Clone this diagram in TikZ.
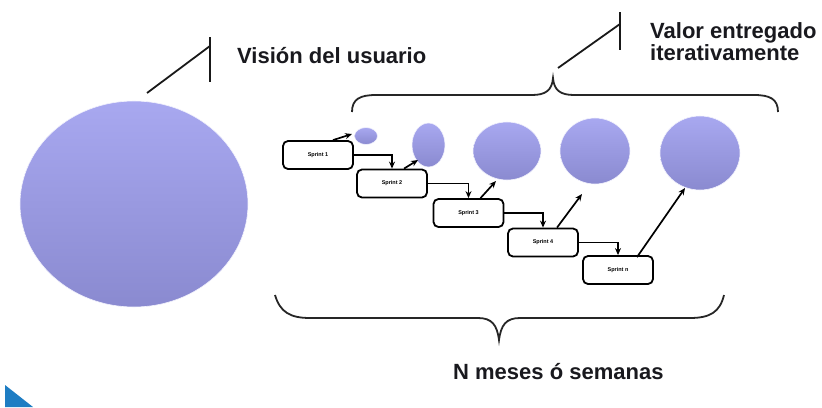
\documentclass[tikz,border=0pt]{standalone}
\usepackage{fontspec}
\setmainfont{Liberation Sans}
\usetikzlibrary{arrows.meta}
\definecolor{bubtop}{RGB}{168,168,240}
\definecolor{bubbot}{RGB}{138,138,208}
\definecolor{txt}{RGB}{25,25,30}
\definecolor{tri}{RGB}{30,125,195}
\tikzset{
  bubble/.style={top color=bubtop, bottom color=bubbot, draw=white!85!bubtop, line width=0.6pt},
  sprintbox/.style={draw=black, line width=1.8pt, rounded corners=5pt, fill=white, minimum width=70pt, minimum height=28pt, inner sep=0pt, font=\bfseries\fontsize{5.5}{6}\selectfont},
  link/.style={line width=1.7pt, -{Stealth[length=7pt,width=6pt]}},
  brace/.style={line width=1.8pt, black!85},
  tick/.style={line width=1.8pt, black!90},
  label/.style={text=txt, font=\bfseries\fontsize{22}{22}\selectfont, inner sep=0pt}
}
\begin{document}
\begin{tikzpicture}[x=1pt,y=-1pt]
\useasboundingbox (0,0) rectangle (822,407);
% big vision circle
\path[bubble] (134,204) ellipse [x radius=114, y radius=103];
\node[label, anchor=base west] (vision) at (237,63) {Visión del usuario};
\coordinate (v1) at (147,93);
\coordinate (v2) at (210,46);
\coordinate (v3) at (210,37);
\coordinate (v4) at (210,82);
\draw[tick] (v1) -- (v2);
\draw[tick] (v3) -- (v4);
% value label
\node[label, anchor=base west, align=left] (valor) at (650,60) {Valor entregado\\[-0.5pt]iterativamente};
\coordinate (w1) at (558,68);
\coordinate (w2) at (620,24);
\coordinate (w3) at (620,12);
\coordinate (w4) at (620,50);
\draw[tick] (w1) -- (w2);
\draw[tick] (w3) -- (w4);
% top brace
\draw[brace] (352,112) .. controls (352,99) and (360,95) .. (376,95) -- (532,95)
  .. controls (546,95) and (552,90) .. (553,78) .. controls (554,90) and (560,95) .. (574,95)
  -- (754,95) .. controls (770,95) and (778,99) .. (778,112);
% bottom brace
\draw[brace] (275,295) .. controls (280,312) and (290,318) .. (310,318) -- (478,318)
  .. controls (492,318) and (497,325) .. (499,340) .. controls (501,325) and (506,318) .. (520,318)
  -- (690,318) .. controls (710,318) and (720,312) .. (724,295);
\node[label, anchor=base west] (meses) at (453,379) {N meses ó semanas};
% bubbles
\path[bubble] (366,136) ellipse [x radius=11.5, y radius=8.5];
\path[bubble] (428.5,145) ellipse [x radius=16.5, y radius=22];
\path[bubble] (507,151) ellipse [x radius=34, y radius=29];
\path[bubble] (595,151) ellipse [x radius=35, y radius=33];
\path[bubble] (700,153) ellipse [x radius=40, y radius=37];
% sprint boxes
\node[sprintbox] (s1) at (318,155) {Sprint 1};
\node[sprintbox] (s2) at (392,183.5) {Sprint 2};
\node[sprintbox] (s3) at (468.5,213) {Sprint 3};
\node[sprintbox] (s4) at (543,242.5) {Sprint 4};
\node[sprintbox] (s5) at (618,270) {Sprint n};
% connectors between boxes
\draw[link] (s1.east) -| (s2.north);
\draw[link] (s2.east) -| (s3.north);
\draw[link] (s3.east) -| (s4.north);
\draw[link] (s4.east) -| (s5.north);
% arrows towards bubbles
\coordinate (a1) at (352,134);
\coordinate (a2) at (418,160);
\coordinate (a3) at (496,181);
\coordinate (a4) at (582,194);
\coordinate (a5) at (685,188);
\draw[link] ([xshift=15pt]s1.north) -- (a1);
\draw[link] ([xshift=12pt]s2.north) -- (a2);
\draw[link] ([xshift=12pt]s3.north) -- (a3);
\draw[link] ([xshift=14pt]s4.north) -- (a4);
\draw[link] ([xshift=19pt,yshift=-2pt]s5.north) -- (a5);
% blue corner triangle
\fill[tri] (5,385) -- (33,407) -- (5,407) -- cycle;
\end{tikzpicture}
\end{document}
